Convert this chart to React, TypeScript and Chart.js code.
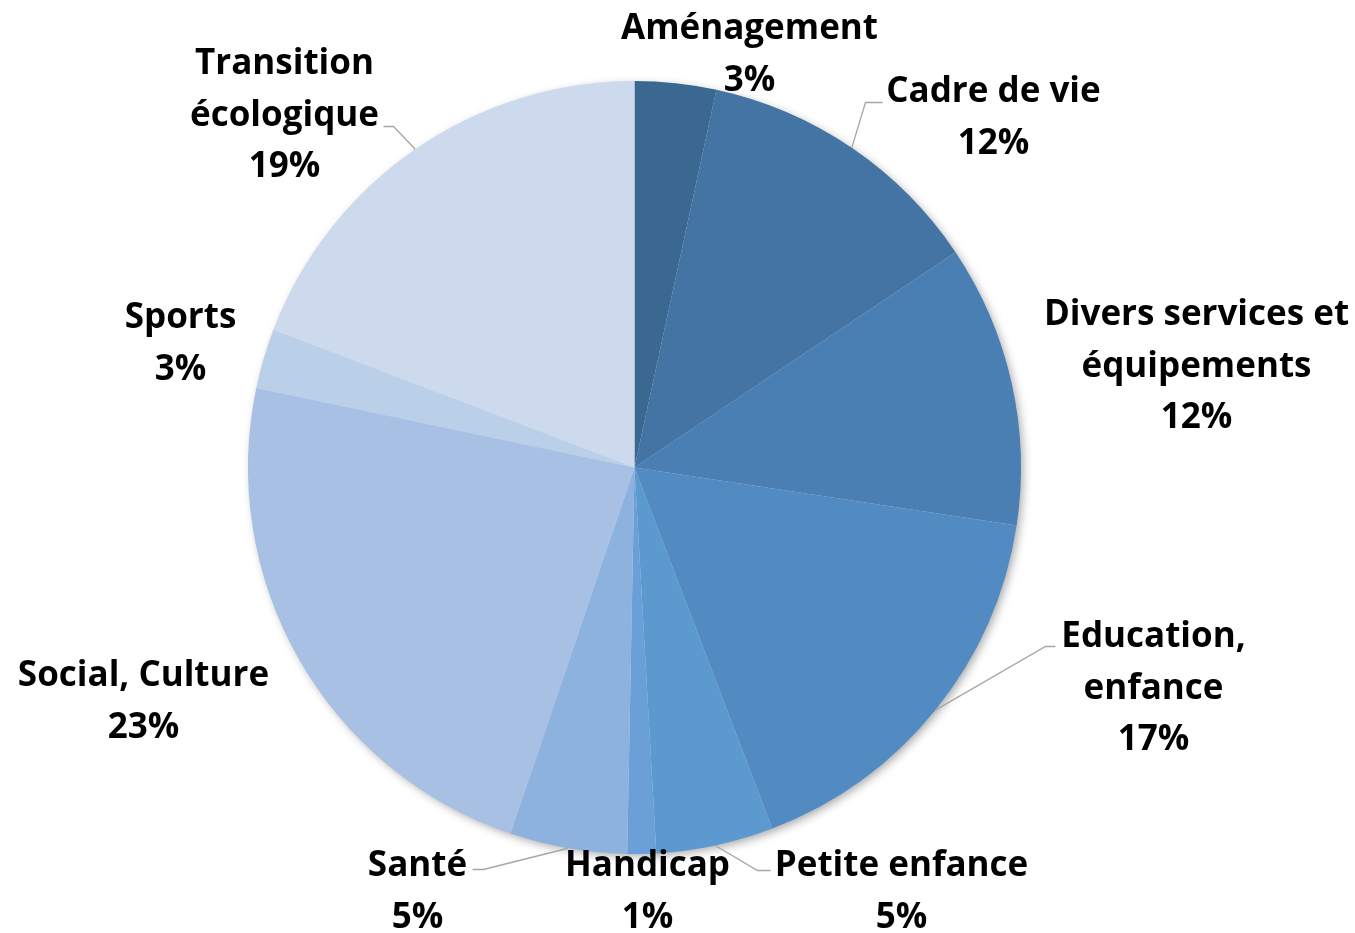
import React, { useEffect, useRef } from "react";
import { Chart, registerables } from "chart.js";

Chart.register(...registerables);

const categories = [
  "Aménagement",
  "Cadre de vie",
  "Divers services et équipements",
  "Education, enfance",
  "Petite enfance",
  "Handicap",
  "Santé",
  "Social, Culture",
  "Sports",
  "Transition écologique",
];
const labelLines = [
  ["Aménagement"],
  ["Cadre de vie"],
  ["Divers services et", "équipements"],
  ["Education,", "enfance"],
  ["Petite enfance"],
  ["Handicap"],
  ["Santé"],
  ["Social, Culture"],
  ["Sports"],
  ["Transition", "écologique"],
];
const values = [3.4, 12.2, 11.8, 16.8, 4.9, 1.2, 4.9, 23.1, 2.5, 19.2];
const colors = [
  "#3b6891",
  "#4474a3",
  "#4a7fb3",
  "#528bc1",
  "#5b99cf",
  "#6aa0d7",
  "#8eb2de",
  "#a7c0e3",
  "#bacfe8",
  "#cddaed",
];

// label layout: text centre (dx, dy of first line relative to pie centre, px) and optional leader [elbowX, elbowY, endX, endY]
const labelLayout: { x: number; y: number; leader?: number[] }[] = [
  { x: 115, y: -441 },
  { x: 359, y: -378, leader: [231, -365, 248, -365] },
  { x: 562, y: -155 },
  { x: 519, y: 167, leader: [411, 179, 421, 179] },
  { x: 267, y: 396, leader: [123, 403, 136, 403] },
  { x: 13, y: 396 },
  { x: -217, y: 396, leader: [-151, 402, -162, 402] },
  { x: -491, y: 206 },
  { x: -454, y: -152 },
  { x: -350, y: -406, leader: [-241, -341, -251, -341] },
];

const shadowPlugin = {
  id: "pieShadow",
  beforeDatasetsDraw(chart: any) {
    const arc = chart.getDatasetMeta(0).data[0];
    if (!arc) return;
    const { x, y, outerRadius } = arc;
    const ctx = chart.ctx;
    ctx.save();
    ctx.shadowColor = "rgba(0,0,0,0.35)";
    ctx.shadowBlur = 10;
    ctx.shadowOffsetX = 3;
    ctx.shadowOffsetY = 3;
    ctx.fillStyle = "#cddaed";
    ctx.beginPath();
    ctx.arc(x, y, outerRadius - 1, 0, Math.PI * 2);
    ctx.fill();
    ctx.restore();
  },
};

const labelPlugin = {
  id: "pieLabels",
  afterDatasetsDraw(chart: any) {
    const ctx = chart.ctx;
    const meta = chart.getDatasetMeta(0);
    const total = values.reduce((a, b) => a + b, 0);
    const lineH = 51.5;
    const textShift = 3;
    ctx.save();
    meta.data.forEach((arc: any, i: number) => {
      const cx = arc.x;
      const cy = arc.y;
      const lay = labelLayout[i];
      const mid = (arc.startAngle + arc.endAngle) / 2;
      if (lay.leader) {
        const sx = cx + Math.cos(mid) * arc.outerRadius;
        const sy = cy + Math.sin(mid) * arc.outerRadius;
        ctx.strokeStyle = "#a6a6a6";
        ctx.lineWidth = 1.3;
        ctx.beginPath();
        ctx.moveTo(sx, sy);
        ctx.lineTo(cx + lay.leader[0], cy + lay.leader[1]);
        ctx.lineTo(cx + lay.leader[2], cy + lay.leader[3]);
        ctx.stroke();
      }
      const pct = Math.round((values[i] / total) * 100) + "%";
      const lines = [...labelLines[i], pct];
      ctx.fillStyle = "#000";
      ctx.font = "bold 35px 'Open Sans', Lato, sans-serif";
      ctx.textAlign = "center";
      ctx.textBaseline = "middle";
      lines.forEach((t, k) => {
        ctx.fillText(t, cx + lay.x, cy + lay.y + textShift + k * lineH);
      });
    });
    ctx.restore();
  },
};

export default function App() {
  const ref = useRef<HTMLCanvasElement | null>(null);
  useEffect(() => {
    document.body.style.margin = "0";
    const canvas = ref.current;
    if (!canvas) return;
    const chart = new Chart(canvas, {
      type: "pie",
      data: {
        labels: categories,
        datasets: [
          {
            data: values,
            backgroundColor: colors,
            borderWidth: 0,
          },
        ],
      },
      options: {
        responsive: false,
        animation: false,
        layout: { padding: { left: 248, right: 334, top: 81, bottom: 79 } },
        plugins: {
          legend: { display: false },
          tooltip: { enabled: false },
        },
      },
      plugins: [shadowPlugin, labelPlugin],
    });
    return () => chart.destroy();
  }, []);
  return (
    <div style={{ width: 1355, height: 933, background: "#fff" }}>
      <canvas ref={ref} width={1355} height={933} style={{ display: "block" }} />
    </div>
  );
}
